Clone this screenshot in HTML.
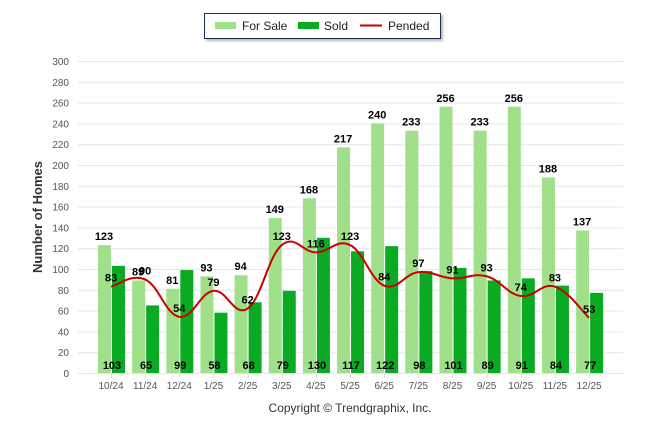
<!DOCTYPE html>
<html><head><meta charset="utf-8"><style>
body{margin:0;background:#fff;}
svg text{font-family:"Liberation Sans",Arial,sans-serif;}
</style></head><body>
<svg id="chart" width="646" height="434" viewBox="0 0 646 434" xmlns="http://www.w3.org/2000/svg">
<defs><filter id="sh" x="-5%" y="-20%" width="115%" height="160%"><feDropShadow dx="2" dy="2" stdDeviation="1" flood-color="#888" flood-opacity="0.6"/></filter></defs>
<g id="grid"></g>
<g id="yticks"></g>
<g id="xticks"></g>
<g id="bars"></g>
<g id="line"></g>
<g id="labels"></g>
<text x="42" y="217" transform="rotate(-90 42 217)" text-anchor="middle" font-size="13" font-weight="bold" fill="#333">Number of Homes</text>
<text x="350" y="412" text-anchor="middle" font-size="12" fill="#333">Copyright © Trendgraphix, Inc.</text>
<g>
<rect x="204.5" y="13.5" width="236" height="25" fill="#fff" stroke="#1f2f5a" stroke-width="1" filter="url(#sh)"/>
<rect x="215" y="22" width="21" height="7" fill="#a0e08a"/>
<text x="242" y="30" font-size="12" fill="#222">For Sale</text>
<rect x="298" y="22" width="21" height="7" fill="#0aaa22"/>
<text x="324" y="30" font-size="12" fill="#222">Sold</text>
<line x1="360" y1="25.5" x2="382" y2="25.5" stroke="#cc0000" stroke-width="2"/>
<text x="388" y="30" font-size="12" fill="#222">Pended</text>
</g>
</svg>
<script>
const categories=["10/24","11/24","12/24","1/25","2/25","3/25","4/25","5/25","6/25","7/25","8/25","9/25","10/25","11/25","12/25"];
const forSale=[123,89,81,93,94,149,168,217,240,233,256,233,256,188,137];
const sold=[103,65,99,58,68,79,130,117,122,98,101,89,91,84,77];
const pended=[83,90,54,79,62,123,116,123,84,97,91,93,74,83,53];
const yTicks=[0,20,40,60,80,100,120,140,160,180,200,220,240,260,280,300];
const NS="http://www.w3.org/2000/svg";
const y0=373,y300=61,xL=78,xR=623;
function y(v){return y0-(y0-y300)*v/300;}
function x(i){return 111+i*34.15;}
function mk(tag,attrs,parent,txt){const e=document.createElementNS(NS,tag);for(const k in attrs)e.setAttribute(k,attrs[k]);if(txt!==undefined)e.textContent=txt;document.getElementById(parent).appendChild(e);return e;}
yTicks.forEach(t=>{
  const g=mk('line',{x1:xL,x2:xR,y1:y(t)+0.5,y2:y(t)+0.5,stroke:'#e6e6e6','stroke-width':1},'grid');
  
  
  const l=mk('text',{x:69,y:y(t)+4,'text-anchor':'end','font-size':10,fill:'#555'},'yticks',t);
  
  
});
categories.forEach((c,i)=>{
  const l=mk('text',{x:x(i),y:389,'text-anchor':'middle','font-size':10,fill:'#555'},'xticks',c);
  
  
  const tk=mk('line',{x1:x(i)+0.5,x2:x(i)+0.5,y1:373,y2:378,stroke:'#ddd'},'xticks');
  
  
  const b1=mk('rect',{x:x(i)-13,y:y(forSale[i]),width:13,height:y0-y(forSale[i]),fill:'#a0e08a'},'bars');
  
  
  const b2=mk('rect',{x:x(i)+1,y:y(sold[i]),width:13,height:y0-y(sold[i]),fill:'#0aaa22'},'bars');
  
  
  const t1=mk('text',{x:x(i)-7,y:y(forSale[i])-5,'text-anchor':'middle','font-size':11,'font-weight':'bold',fill:'#000'},'labels',forSale[i]);
  
  
  const t2=mk('text',{x:x(i)+1,y:369,'text-anchor':'middle','font-size':11,'font-weight':'bold',fill:'#000'},'labels',sold[i]);
  
  
  const t3=mk('text',{x:x(i),y:y(pended[i])-5,'text-anchor':'middle','font-size':11,'font-weight':'bold',fill:'#000'},'labels',pended[i]);
  
  
});
// monotone-ish smooth curve (catmull-rom)
const pts=pended.map((v,i)=>[x(i),y(v)]);
let d='M'+pts[0][0]+','+pts[0][1];
for(let i=0;i<pts.length-1;i++){
  const p0=pts[i-1]||pts[i],p1=pts[i],p2=pts[i+1],p3=pts[i+2]||p2;
  const k=0.2;
  const c1=[p1[0]+(p2[0]-p0[0])*k,p1[1]+(p2[1]-p0[1])*k];
  const c2=[p2[0]-(p3[0]-p1[0])*k,p2[1]-(p3[1]-p1[1])*k];
  d+=` C${c1[0]},${c1[1]} ${c2[0]},${c2[1]} ${p2[0]},${p2[1]}`;
}
const pl=mk('path',{d:d,fill:'none',stroke:'#cc0000','stroke-width':2},'line');


</script>
</body></html>
